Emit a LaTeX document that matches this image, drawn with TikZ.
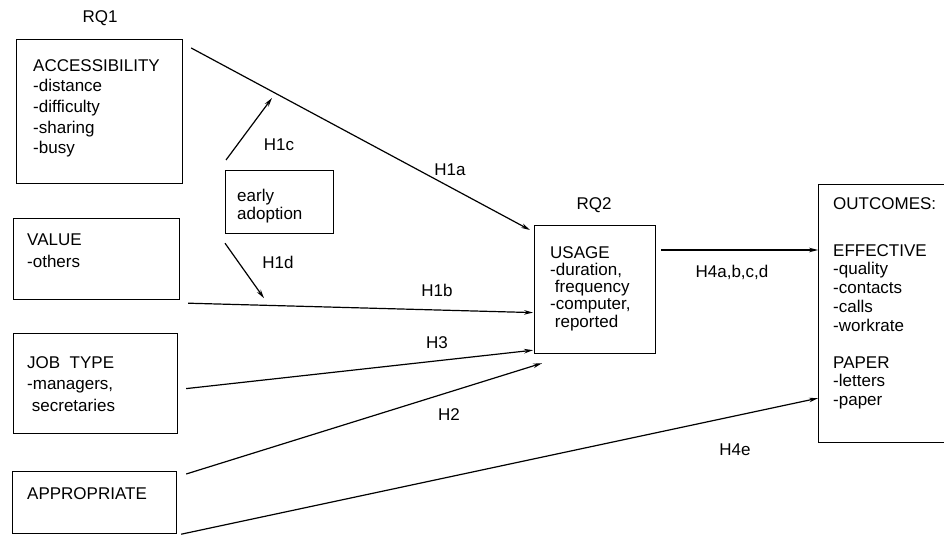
\documentclass[tikz,border=0pt]{standalone}
\usepackage{fontspec}
\setmainfont{Liberation Sans}
\usetikzlibrary{arrows.meta,calc}
\begin{document}
\begin{tikzpicture}[x=1pt,y=-1pt,
  box/.style={draw, line width=1.2pt, inner sep=0pt, anchor=north west},
  txt/.style={anchor=north west, inner sep=0pt, align=left,
              font=\fontsize{17}{20.7}\selectfont},
  lbl/.style={inner sep=0pt, font=\fontsize{17}{19}\selectfont},
  conn/.style={line width=1.2pt},
  arr/.style={conn, -{Stealth[length=9pt,width=4.6pt]}}]
\useasboundingbox (0,0) rectangle (944,535);
\clip (0,0) rectangle (944,535);

% variable boxes
\node[box, minimum width=166pt, minimum height=144pt] (acc)   at (16,39)  {};
\node[box, minimum width=166pt, minimum height=81pt]  (value) at (13,218) {};
\node[box, minimum width=164pt, minimum height=100pt] (job)   at (13,333) {};
\node[box, minimum width=164pt, minimum height=62pt]  (appr)  at (12,471) {};
\node[box, minimum width=108pt, minimum height=63pt]  (early) at (225,170) {};
\node[box, minimum width=121pt, minimum height=128pt] (usage) at (534,225) {};
\node[box, minimum width=150pt, minimum height=258pt] (outc)  at (818,184) {};

% box contents
\node[txt] (acc-t) at (33,59)
  {ACCESSIBILITY\\-distance\\-difficulty\\-sharing\\-busy};
\node[txt, font=\fontsize{17}{22}\selectfont] (value-t) at (27,234)
  {VALUE\\-others};
\node[txt, font=\fontsize{17}{21.5}\selectfont] (job-t) at (27,356)
  {JOB\ \ TYPE\\-managers,\\\ secretaries};
\node[txt] (appr-t) at (27,487) {APPROPRIATE};
\node[txt, font=\fontsize{17}{18}\selectfont] (early-t) at (237,189)
  {early\\adoption};
\node[txt, font=\fontsize{17}{17.3}\selectfont] (usage-t) at (550,246)
  {USAGE\\-duration,\\\ frequency\\-computer,\\\ reported};
\node[txt, font=\fontsize{17}{18.75}\selectfont] (outc-t) at (833,197)
  {OUTCOMES:\\[28.25pt]EFFECTIVE\\-quality\\-contacts\\-calls\\-workrate\\[18.25pt]PAPER\\-letters\\-paper};

% research question headings
\node[lbl] (rq1) at (100,18)  {RQ1};
\node[lbl] (rq2) at (594,205) {RQ2};

% hypotheses
\draw[arr] ($(acc.north east)+(8,9)$)    -- ($(usage.north west)+(-4,5)$);
\draw[arr] ($(value.south east)+(8,3)$)  -- ($(usage.west)+(-1,23)$);
\draw[arr] ($(job.east)+(8,5)$)          -- ($(usage.south west)+(-1,-4)$);
\draw[arr] ($(appr.north east)+(9,3)$)   -- ($(usage.south west)+(8,9)$);
\draw[arr] ($(appr.south east)+(4,0)$)   -- ($(outc.south west)+(0,-45)$);
\draw[arr] ($(usage.north east)+(5,25)$) -- ($(outc.north west)+(0,66)$);
\draw[arr] ($(early.north west)+(1,-10)$) -- ($(early.north west)+(47,-72)$);
\draw[arr] ($(early.south west)+(0,9)$)   -- ($(early.south west)+(39,64)$);

% hypothesis labels
\node[lbl] (h1c) at (279,145) {H1c};
\node[lbl] (h1a) at (450,170) {H1a};
\node[lbl] (h1d) at (278,262) {H1d};
\node[lbl] (h1b) at (437,290) {H1b};
\node[lbl] (h3)  at (437,343) {H3};
\node[lbl] (h2)  at (449,415) {H2};
\node[lbl] (h4a) at (732,272) {H4a,b,c,d};
\node[lbl] (h4e) at (735,450) {H4e};
\end{tikzpicture}
\end{document}
